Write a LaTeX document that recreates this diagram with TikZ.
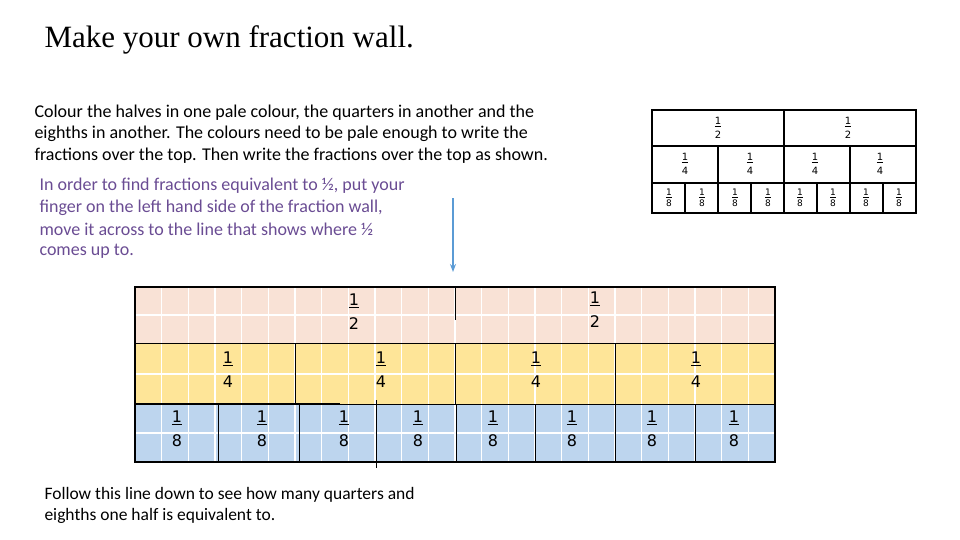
\documentclass[tikz,border=0pt]{standalone}
\usepackage{fontspec}
\setmainfont{Carlito}
\newfontfamily\titlefont{Liberation Serif}
\newfontfamily\fracfont{DejaVu Sans}
\usetikzlibrary{arrows.meta}
\definecolor{pinkc}{HTML}{F9E2D6}
\definecolor{yelc}{HTML}{FEE598}
\definecolor{bluec}{HTML}{BDD5EE}
\definecolor{purp}{HTML}{6A4C93}
\definecolor{arrc}{HTML}{5B9BD5}
\tikzset{para/.style={anchor=west,font=\fontsize{18}{18}\selectfont},
 bigfr/.style={align=center,font=\fracfont\fontsize{16}{24}\selectfont,inner sep=0},
 smfr/.style={align=center,font=\fracfont\fontsize{10}{14}\selectfont,inner sep=0},
 tinyfr/.style={align=center,font=\fracfont\fontsize{9}{11}\selectfont,inner sep=0}}
\begin{document}
\begin{tikzpicture}[x=1pt,y=-1pt]
\useasboundingbox (0,0) rectangle (960,540);
\node[anchor=west,font=\titlefont\fontsize{31}{31}\selectfont] (title) at (41,40) {Make your own fraction wall.};
\node[para] (p1) at (31,113) {Colour the halves in one pale colour, the quarters in another and the};
\node[para] (p2) at (31,134) {eighths in another. The colours need to be pale enough to write the};
\node[para] (p3) at (31,156) {fractions over the top. Then write the fractions over the top as shown.};
\node[para,text=purp] (q1) at (36,186) {In order to find fractions equivalent to ½, put your};
\node[para,text=purp] (q2) at (36,208) {finger on the left hand side of the fraction wall,};
\node[para,text=purp] (q3) at (36,229) {move it across to the line that shows where ½};
\node[para,text=purp] (q4) at (36,251) {comes up to.};
\node[para,font=\fontsize{17.5}{18}\selectfont] (b1) at (41,495) {Follow this line down to see how many quarters and};
\node[para,font=\fontsize{17.5}{18}\selectfont] (b2) at (41,516) {eighths one half is equivalent to.};
% small wall
\draw[line width=1.2pt] (652,110) rectangle (916,213);
\draw[line width=1.2pt] (652,146) -- (916,146) (652,183) -- (916,183) (784,110) -- (784,213);
\foreach \x in {718,850} \draw[line width=1.2pt] (\x,146) -- (\x,213);
\foreach \x in {685,751,817,883} \draw[line width=1.2pt] (\x,183) -- (\x,213);
\foreach \x in {718,848} \node[smfr] at (\x,128) {\underline{1}\\2};
\foreach \x in {685,750,815,880} \node[smfr] at (\x,164) {\underline{1}\\4};
\foreach \x in {669,702,735,768,800,833,866,899} \node[tinyfr] at (\x,198) {\underline{1}\\8};
% big wall
\fill[pinkc] (135,287) rectangle (775,343);
\fill[yelc] (135,343) rectangle (775,404);
\fill[bluec] (135,404) rectangle (775,462);
\foreach \i in {1,...,23} \draw[white,line width=1.5pt] ({135+\i*640/24},287) -- ({135+\i*640/24},462);
\foreach \y in {315,374,433} \draw[white,line width=2pt] (135,\y) -- (775,\y);
\draw[line width=1.5pt] (135,287) rectangle (775,462);
\draw[line width=0.8pt] (135,343) -- (775,343);
\draw[line width=0.8pt] (135,404) -- (775,404);
\draw[line width=1.5pt] (135,404) -- (340,404);
\draw[line width=0.8pt] (455,287) -- (455,320);
\foreach \x in {295,455,615} \draw[line width=0.8pt] (\x,343) -- (\x,404);
\foreach \x in {218,299,456,535,615,695} \draw[line width=0.8pt] (\x,404) -- (\x,462);
\coordinate (ls) at (376,400);
\coordinate (le) at (376,468);
\draw[line width=0.8pt] (ls) -- (le);
\node[bigfr] at (354,312) {\underline{1}\\2};
\node[bigfr] at (595,310) {\underline{1}\\2};
\foreach \x in {228,381,536,696} \node[bigfr] at (\x,370) {\underline{1}\\4};
\foreach \x in {177,262,344,418,493,572,652,734} \node[bigfr] at (\x,429) {\underline{1}\\8};
% arrow
\coordinate (as) at (453,198);
\coordinate (ae) at (453,272);
\draw[arrc,line width=1.5pt,-{Stealth[length=8pt]}] (as) -- (ae);
\end{tikzpicture}
\end{document}
